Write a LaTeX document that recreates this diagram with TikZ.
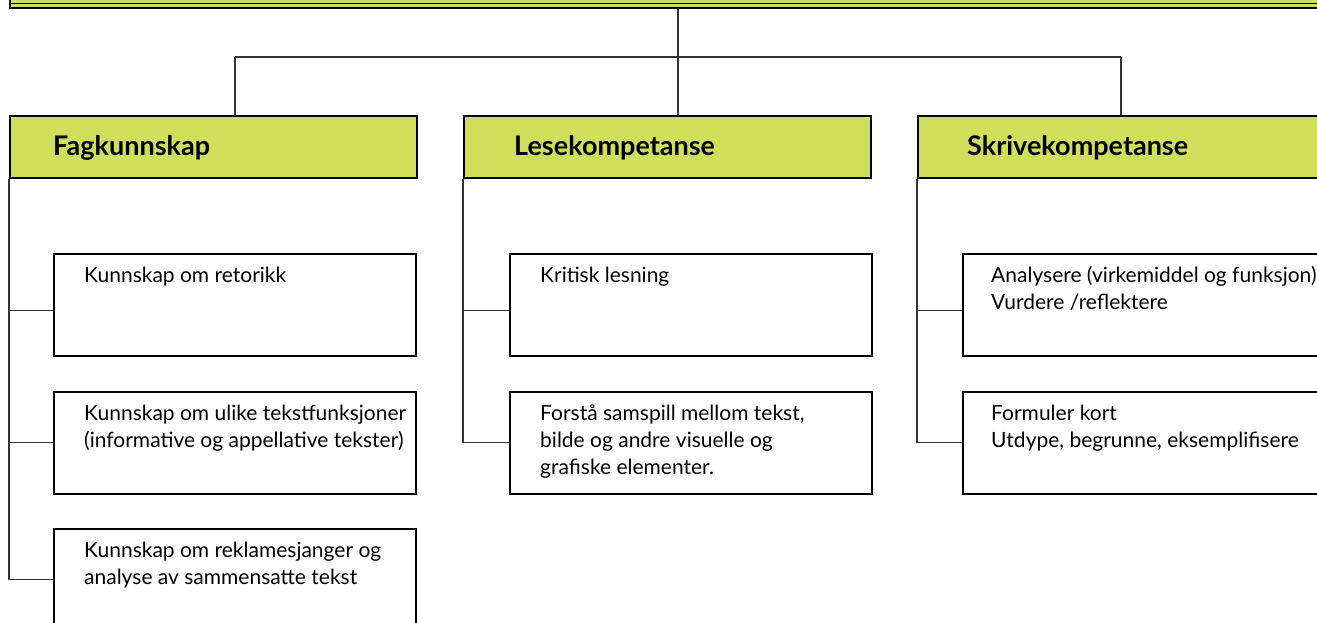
\documentclass[tikz,border=0pt]{standalone}
\usepackage{fontspec}
\setmainfont{Lato}
\definecolor{lime}{RGB}{207,223,91}
\tikzset{
	head/.style={draw=black, line width=1.6pt, fill=lime, minimum width=407pt, minimum height=62pt, anchor=north west, inner sep=0pt},
	headtxt/.style={anchor=base west, inner sep=0pt, font=\fontsize{27}{30}\selectfont\bfseries},
	sub/.style={draw=black, line width=1.6pt, minimum width=362pt, minimum height=102pt, anchor=north west, inner sep=0pt},
	subtxt/.style={anchor=north west, inner sep=0pt, align=left, font=\fontsize{21}{27}\selectfont},
	link/.style={draw=black!80, line width=1.2pt},
}
\begin{document}
\begin{tikzpicture}[x=1pt, y=-1pt]
	\useasboundingbox (0,0) rectangle (1317,623);
	\clip (0,0) rectangle (1317,623);
	\node[draw=black, line width=1.5pt, fill=lime, minimum width=1340pt, minimum height=40pt, anchor=south west, inner sep=0pt] (top) at (9,9) {};
	\draw[line width=1pt] ([yshift=5pt]top.south west) to ([yshift=5pt]top.south east);
	\node[head] (hf) at (9,115) {};
	\node[head] (hl) at (463,115) {};
	\node[head] (hs) at (917,115) {};
	\node[headtxt] (hft) at ([shift={(44pt,-9pt)}]hf.west) {Fagkunnskap};
	\node[headtxt] (hlt) at ([shift={(51pt,-9pt)}]hl.west) {Lesekompetanse};
	\node[headtxt] (hst) at ([shift={(50pt,-9pt)}]hs.west) {Skrivekompetanse};
	\node[sub] (fa1) at (53,253) {};
	\node[sub] (fa2) at (53,391) {};
	\node[sub] (fa3) at (53,528) {};
	\node[sub] (le1) at (509,253) {};
	\node[sub] (le2) at (509,391) {};
	\node[sub] (sk1) at (962,253) {};
	\node[sub] (sk2) at (962,391) {};
	\node[subtxt] (fa1t) at ([shift={(31pt,-13.5pt)}]fa1.north west) {Kunnskap om retorikk};
	\node[subtxt] (fa2t) at ([shift={(31pt,-13.5pt)}]fa2.north west) {Kunnskap om ulike tekstfunksjoner\\(informative og appellative tekster)};
	\node[subtxt] (fa3t) at ([shift={(31pt,-13.5pt)}]fa3.north west) {Kunnskap om reklamesjanger og\\analyse av sammensatte tekst};
	\node[subtxt] (le1t) at ([shift={(31pt,-13.5pt)}]le1.north west) {Kritisk lesning};
	\node[subtxt] (le2t) at ([shift={(31pt,-13.5pt)}]le2.north west) {Forstå samspill mellom tekst,\\bilde og andre visuelle og\\grafiske elementer.};
	\node[subtxt] (sk1t) at ([shift={(29pt,-13pt)}]sk1.north west) {Analysere (virkemiddel og funksjon)\\Vurdere /reflektere};
	\node[subtxt] (sk2t) at ([shift={(29pt,-13.5pt)}]sk2.north west) {Formuler kort\\Utdype, begrunne, eksemplifisere};
	\coordinate (jf) at (235,57);
	\coordinate (jl) at (678,57);
	\coordinate (js) at (1121,57);
	\coordinate (fb1) at ([yshift=-6pt]fa1.west);
	\coordinate (lb1) at ([yshift=-6pt]le1.west);
	\coordinate (sb1) at ([yshift=-6pt]sk1.west);
	\draw[link] (top.south -| jl) to (jl);
	\draw[link] (jf) to (js);
	\draw[link] (jf) to (jf |- hf.north);
	\draw[link] (jl) to (jl |- hl.north);
	\draw[link] (js) to (js |- hs.north);
	\draw[link] (hf.south west) |- (fa3.west);
	\draw[link] (hf.south west |- fb1) to (fb1);
	\draw[link] (hf.south west |- fa2.west) to (fa2.west);
	\draw[link] (hl.south west) |- (le2.west);
	\draw[link] (hl.south west |- lb1) to (lb1);
	\draw[link] (hs.south west) |- (sk2.west);
	\draw[link] (hs.south west |- sb1) to (sb1);
\end{tikzpicture}
\end{document}
